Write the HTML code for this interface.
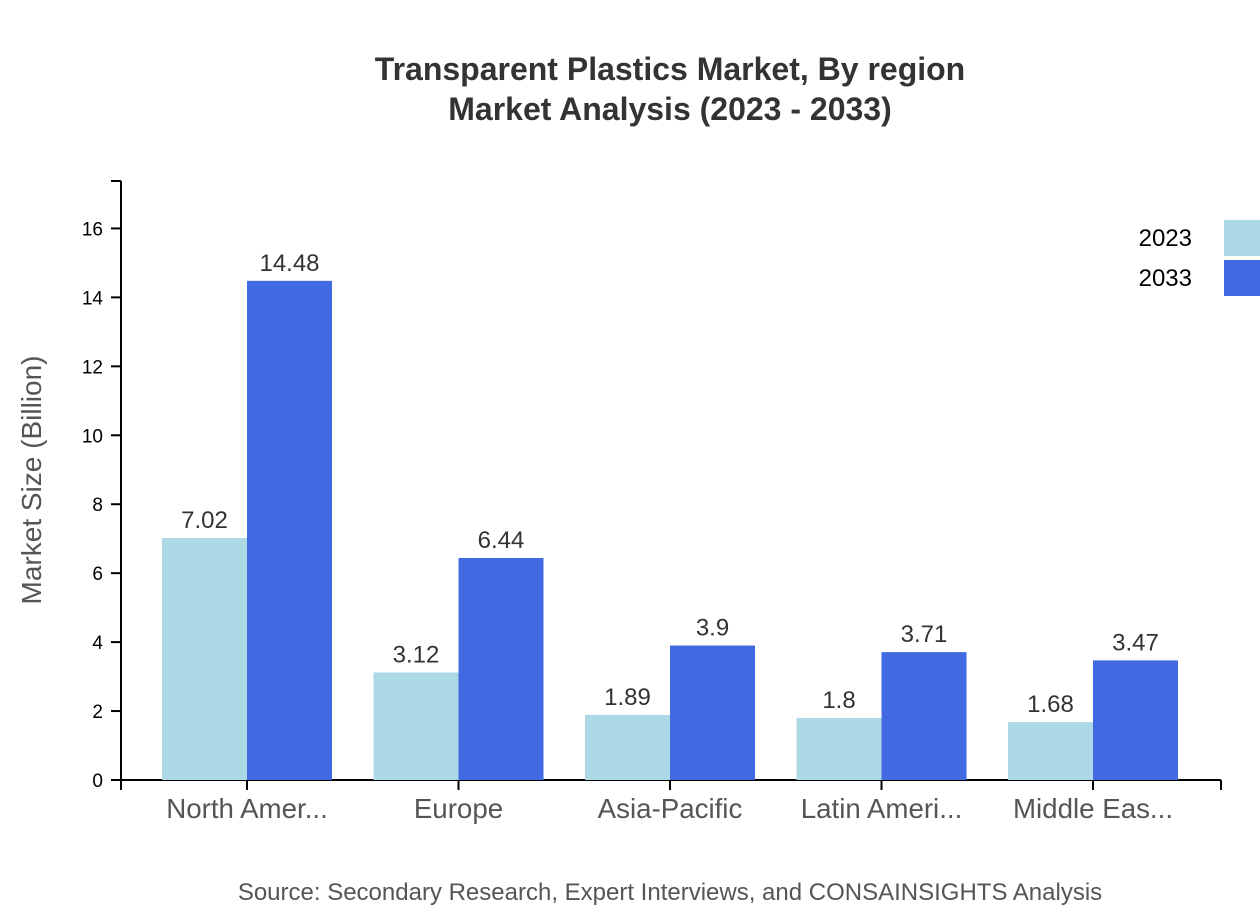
<!DOCTYPE html>
<html><head><meta charset="utf-8"><style>
html,body{margin:0;padding:0;background:#fff;}
svg{display:block;font-family:"Liberation Sans",Arial,sans-serif;}
</style></head><body>
<svg id="chart" width="1260" height="920" viewBox="0 0 1260 920">
<text x="670" y="80" text-anchor="middle" font-size="32" font-weight="bold" fill="#333">Transparent Plastics Market, By region</text>
<text x="670" y="120" text-anchor="middle" font-size="32" font-weight="bold" fill="#333">Market Analysis (2023 - 2033)</text>
<text transform="translate(41,480) rotate(-90)" text-anchor="middle" font-size="28" fill="#555">Market Size (Billion)</text>
<text x="670" y="900" text-anchor="middle" font-size="24" fill="#555">Source: Secondary Research, Expert Interviews, and CONSAINSIGHTS Analysis</text>
<g id="plot"></g>
<g>
<text x="1192" y="246" text-anchor="end" font-size="24" fill="#000">2023</text>
<rect x="1224" y="220" width="36" height="36" fill="#add8e6"/>
<text x="1192" y="286" text-anchor="end" font-size="24" fill="#000">2033</text>
<rect x="1224" y="260" width="36" height="36" fill="#4169e1"/>
</g>
</svg>
<script>
const categories = ["North Amer...", "Europe", "Asia-Pacific", "Latin Ameri...", "Middle Eas..."];
const values2023 = [7.02, 3.12, 1.89, 1.8, 1.68];
const values2033 = [14.48, 6.44, 3.9, 3.71, 3.47];
const yTicks = [0, 2, 4, 6, 8, 10, 12, 14, 16];

const NS = "http://www.w3.org/2000/svg";
const plot = document.getElementById("plot");
const x0 = 121, x1 = 1221, yBase = 780, yTop = 181;
const yMax = Math.max(...values2033, ...values2023) * 1.2;
function y(v){ return yBase - (yBase - yTop) * v / yMax; }
const step = 211.5, firstCenter = 247, barW = 85;
function xc(i){ return firstCenter + step * i; }
function mk(tag, attrs){ const e = document.createElementNS(NS, tag); for (const k in attrs) e.setAttribute(k, attrs[k]); plot.appendChild(e); return e; }

let ax = mk("line", {x1: x0, y1: yTop, x2: x0, y2: yBase, stroke: "#000", "stroke-width": 2});


let xl = mk("line", {x1: x0, y1: yBase, x2: x1, y2: yBase, stroke: "#000", "stroke-width": 2});


let t1 = mk("line", {x1: x0, y1: yBase, x2: x0, y2: yBase + 10, stroke: "#000", "stroke-width": 2});


let t2 = mk("line", {x1: x1, y1: yBase, x2: x1, y2: yBase + 10, stroke: "#000", "stroke-width": 2});


let t3 = mk("line", {x1: x0 - 10, y1: yTop, x2: x0, y2: yTop, stroke: "#000", "stroke-width": 2});



yTicks.forEach(v => {
  const tk = mk("line", {x1: x0 - 10, y1: y(v), x2: x0, y2: y(v), stroke: "#000", "stroke-width": 2});
  
  
  const tx = mk("text", {x: x0 - 18, y: y(v) + 7, "text-anchor": "end", "font-size": 19, fill: "#000"});
  tx.textContent = v;
  
  
});

categories.forEach((c, i) => {
  const cx = xc(i);
  [[values2023[i], cx - barW, "#add8e6", "2023"], [values2033[i], cx, "#4169e1", "2033"]].forEach(([v, bx, col, yr]) => {
    const r = mk("rect", {x: bx, y: y(v), width: barW, height: yBase - y(v), fill: col});
    
    
    const lt = mk("text", {x: bx + barW / 2, y: y(v) - 10, "text-anchor": "middle", "font-size": 24, fill: "#333"});
    lt.textContent = v;
    
    
  });
  const tk = mk("line", {x1: cx, y1: yBase, x2: cx, y2: yBase + 10, stroke: "#000", "stroke-width": 2});
  
  
  const ct = mk("text", {x: cx, y: yBase + 38, "text-anchor": "middle", "font-size": 27.7, fill: "#555"});
  ct.textContent = c;
  
  
});
</script>
</body></html>
